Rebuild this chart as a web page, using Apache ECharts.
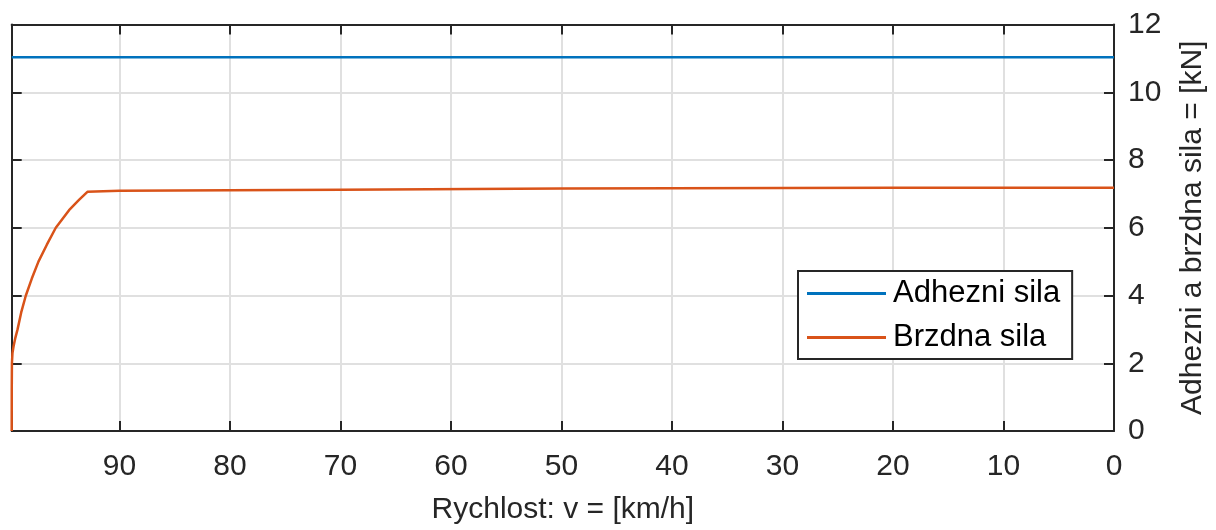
<!DOCTYPE html>
<html>
<head>
<meta charset="utf-8">
<script src="https://cdn.jsdelivr.net/npm/echarts@6/dist/echarts.min.js"></script>
<style>
html,body{margin:0;padding:0;background:#fff;overflow:hidden;width:1216px;height:530px;}
#c{position:absolute;left:0;top:0;width:1216px;height:530px;}
</style>
</head>
<body>
<div id="c"></div>
<script>
// Data
var seriesNames = ['Adhezni sila', 'Brzdna sila'];
var adhezniV = [99.75, 0];
var adhezniF = [11.03, 11.03];
var brzdnaV = [99.75, 99.745, 99.73, 99.68, 99.58, 99.42, 99.22, 98.89, 98.47, 97.93, 97.33, 96.57, 95.76, 94.56, 93.66, 92.9, 90, 85, 70, 50, 30, 20, 0];
var brzdnaF = [0, 1.2, 2.0, 2.3, 2.5, 2.75, 3.0, 3.5, 4.0, 4.5, 5.0, 5.5, 6.0, 6.52, 6.82, 7.06, 7.09, 7.10, 7.12, 7.16, 7.17, 7.18, 7.18];
var xTicks = [0, 10, 20, 30, 40, 50, 60, 70, 80, 90];
var yTicks = [0, 2, 4, 6, 8, 10, 12];

function pairs(xs, ys) { return xs.map(function (x, i) { return [x, ys[i]]; }); }

var FONT = 'Liberation Sans';
var TXT = '#262626';
var axisCommon = {
  axisLine: { show: true, onZero: false, lineStyle: { color: TXT, width: 2 } },
  axisTick: { show: true, inside: true, length: 10, lineStyle: { color: TXT, width: 2 } }
};

var chart = echarts.init(document.getElementById('c'), null, { renderer: 'canvas', width: 1216, height: 530 });
chart.setOption({
  animation: false,
  backgroundColor: '#fff',
  grid: { left: 11.7, right: 98, top: 24.5, bottom: 95, containLabel: false },
  legend: {
    data: seriesNames,
    left: 798, top: 271,
    orient: 'vertical',
    icon: 'rect', itemWidth: 79, itemHeight: 3, itemGap: 13,
    padding: [7, 12, 6, 9],
    borderColor: TXT, borderWidth: 2, backgroundColor: '#fff',
    selectedMode: false,
    textStyle: { fontFamily: FONT, fontSize: 31, color: '#000', padding: [0, 0, 0, 2] }
  },
  xAxis: [
    Object.assign({
      type: 'value', position: 'bottom', inverse: true, min: 0, max: 99.75, interval: 10,
      axisLabel: { fontFamily: FONT, fontSize: 30, color: TXT, margin: 21,
        formatter: function (v) { return xTicks.indexOf(v) >= 0 ? String(v) : ''; } },
      splitLine: { show: true, lineStyle: { color: '#e0e0e0', width: 2 } },
      name: 'Rychlost: v = [km/h]', nameLocation: 'middle', nameGap: 64,
      nameTextStyle: { fontFamily: FONT, fontSize: 30, color: TXT }
    }, axisCommon),
    Object.assign({
      type: 'value', position: 'top', inverse: true, min: 0, max: 99.75, interval: 10,
      axisLabel: { show: false }, splitLine: { show: false }
    }, axisCommon)
  ],
  yAxis: [
    Object.assign({
      type: 'value', position: 'right', min: 0, max: 12, interval: 2,
      axisLabel: { fontFamily: FONT, fontSize: 30, color: TXT, margin: 14,
        formatter: function (v) { return yTicks.indexOf(v) >= 0 ? String(v) : ''; } },
      splitLine: { show: true, lineStyle: { color: '#e0e0e0', width: 2 } },
      name: 'Adhezni a brzdna sila = [kN]', nameLocation: 'middle', nameGap: 64, nameRotate: 90,
      nameTextStyle: { fontFamily: FONT, fontSize: 30, color: TXT }
    }, axisCommon),
    Object.assign({
      type: 'value', position: 'left', min: 0, max: 12, interval: 2,
      axisLabel: { show: false }, splitLine: { show: false }
    }, axisCommon)
  ],
  series: [
    { name: seriesNames[0], type: 'line', showSymbol: false, xAxisIndex: 0, yAxisIndex: 0,
      color: '#0072BD', lineStyle: { color: '#0072BD', width: 2.5 },
      data: pairs(adhezniV, adhezniF) },
    { name: seriesNames[1], type: 'line', showSymbol: false, xAxisIndex: 0, yAxisIndex: 0,
      color: '#D95319', lineStyle: { color: '#D95319', width: 2.5, join: 'round' },
      data: pairs(brzdnaV, brzdnaF) }
  ]
});
</script>
</body>
</html>
